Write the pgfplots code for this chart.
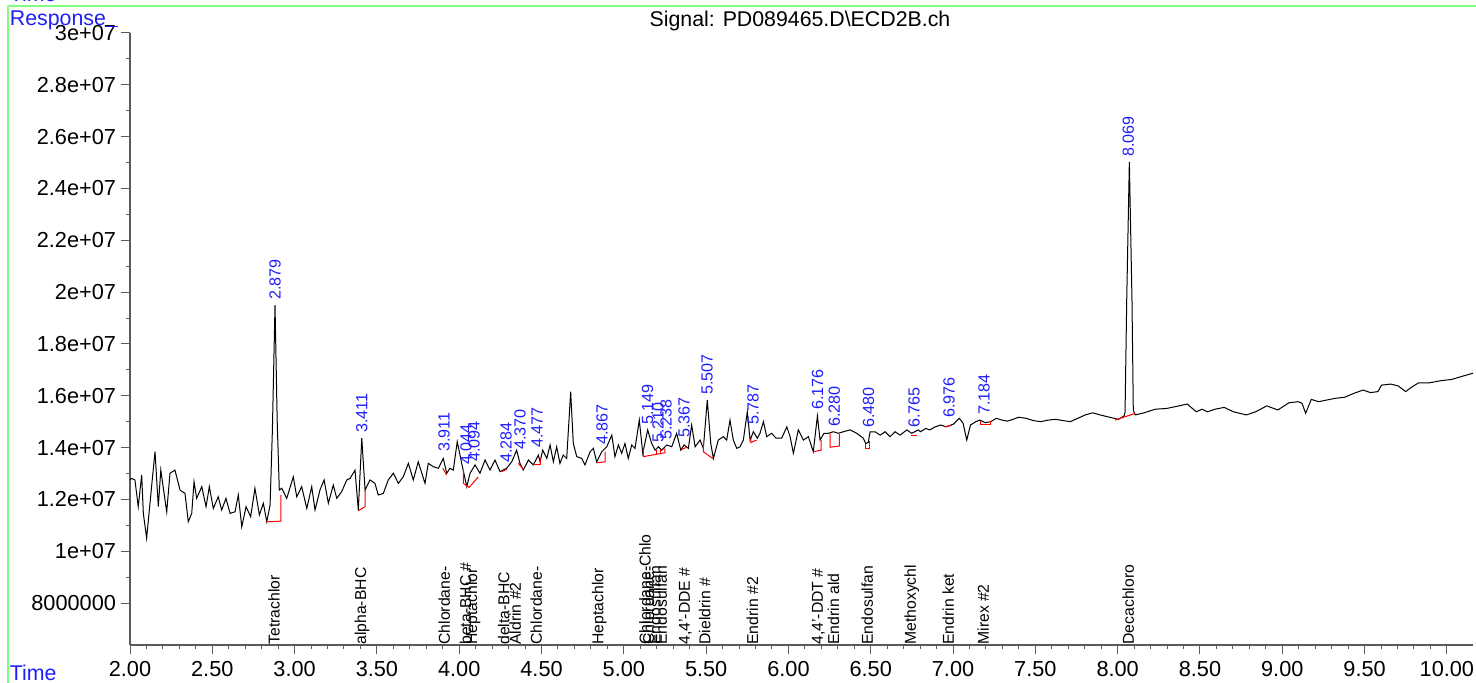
\documentclass[border=0pt]{standalone}
\usepackage{fontspec}
\setmainfont{Liberation Sans}
\usepackage{pgfplots}
\pgfplotsset{compat=1.18}

\definecolor{gframe}{RGB}{128,255,128}
\definecolor{lblue}{RGB}{30,30,250}
\definecolor{axgray}{RGB}{90,90,90}

\newcommand{\rt}[3]{\node[rotate=90,anchor=west,inner sep=0pt,text=lblue,font=\fontsize{8.1}{9}\selectfont] at (axis cs:#1,#2) {#3};}
\newcommand{\cmp}[2]{\node[rotate=90,anchor=west,inner sep=0pt,font=\fontsize{7.9}{9}\selectfont] at (axis cs:#1,6.38e6) {#2};}

\begin{document}
\begin{tikzpicture}
\begin{axis}[
  name=ax,
  scale only axis,
  width=671.5bp, height=306bp,
  xmin=2, xmax=10.159,
  ymin=6.379e6, ymax=30e6,
  axis x line=bottom, axis y line=left,
  axis line style={-, axgray, line width=0.6bp},
  tick align=outside,
  tick style={axgray, line width=0.5bp},
  major tick length=4.5bp, minor tick length=2.2bp,
  xtick={2,2.5,...,10},
  minor x tick num=4,
  ytick={8e6,10e6,12e6,14e6,16e6,18e6,20e6,22e6,24e6,26e6,28e6,30e6},
  yticklabels={8000000,1e+07,1.2e+07,1.4e+07,1.6e+07,1.8e+07,2e+07,2.2e+07,2.4e+07,2.6e+07,2.8e+07,3e+07},
  minor y tick num=1,
  scaled y ticks=false,
  tick label style={font=\fontsize{10.9}{12}\selectfont},
  yticklabel style={xshift=1bp},
  xticklabel style={/pgf/number format/.cd, fixed, fixed zerofill, precision=2},
  /pgf/number format/assume math mode=true,
  clip=false,
]
% chromatogram trace
\addplot[black, line width=0.5bp] coordinates {
(2.000,12.75e6) (2.010,12.81e6) (2.030,12.75e6) (2.050,11.72e6) (2.071,12.94e6)
(2.081,11.46e6) (2.101,10.50e6) (2.132,12.55e6) (2.152,13.84e6) (2.172,11.72e6)
(2.187,13.13e6) (2.223,11.52e6) (2.243,13.01e6) (2.273,13.13e6) (2.304,12.36e6)
(2.334,12.23e6) (2.354,11.14e6) (2.375,11.46e6) (2.389,12.68e6) (2.405,12.04e6)
(2.436,12.49e6) (2.462,11.72e6) (2.482,12.49e6) (2.506,11.65e6) (2.536,12.10e6)
(2.557,11.59e6) (2.583,12.04e6) (2.608,11.46e6) (2.638,11.52e6) (2.658,12.17e6)
(2.679,10.94e6) (2.705,11.72e6) (2.733,11.33e6) (2.759,12.43e6) (2.786,11.40e6)
(2.810,11.85e6) (2.831,11.14e6) (2.851,11.78e6) (2.865,14.68e6) (2.881,19.50e6)
(2.894,15.06e6) (2.907,12.36e6) (2.922,12.43e6) (2.952,12.04e6) (2.992,12.87e6)
(3.013,12.10e6) (3.043,12.49e6) (3.074,11.65e6) (3.104,12.49e6) (3.124,11.59e6)
(3.154,12.36e6) (3.179,12.75e6) (3.205,11.85e6) (3.235,12.55e6) (3.256,12.04e6)
(3.286,12.30e6) (3.317,12.75e6) (3.337,12.81e6) (3.367,13.13e6) (3.387,11.59e6)
(3.408,14.36e6) (3.428,12.36e6) (3.458,12.75e6) (3.488,12.62e6) (3.508,12.17e6)
(3.539,12.23e6) (3.569,12.75e6) (3.600,13.01e6) (3.630,12.62e6) (3.660,12.87e6)
(3.691,13.39e6) (3.721,12.75e6) (3.751,13.45e6) (3.792,12.62e6) (3.812,13.39e6)
(3.843,13.26e6) (3.873,13.20e6) (3.903,13.58e6) (3.924,13.01e6) (3.944,13.20e6)
(3.964,13.13e6) (3.988,14.23e6) (4.015,13.39e6) (4.046,12.49e6) (4.066,13.01e6)
(4.096,13.33e6) (4.126,13.01e6) (4.157,13.52e6) (4.187,13.13e6) (4.217,13.52e6)
(4.248,13.07e6) (4.288,13.20e6) (4.319,13.45e6) (4.349,13.90e6) (4.369,13.39e6)
(4.389,13.13e6) (4.420,13.52e6) (4.450,13.33e6) (4.481,13.71e6) (4.491,13.45e6)
(4.507,13.90e6) (4.532,13.58e6) (4.552,14.10e6) (4.572,13.45e6) (4.592,14.03e6)
(4.612,13.39e6) (4.632,13.71e6) (4.653,13.58e6) (4.677,16.16e6) (4.693,14.16e6)
(4.714,13.65e6) (4.744,13.58e6) (4.764,13.33e6) (4.795,13.84e6) (4.815,13.97e6)
(4.835,13.45e6) (4.866,13.84e6) (4.896,14.03e6) (4.927,14.48e6) (4.946,13.65e6)
(4.967,14.10e6) (4.987,13.78e6) (5.007,14.16e6) (5.027,13.58e6) (5.048,14.10e6)
(5.068,13.97e6) (5.094,15.06e6) (5.115,13.78e6) (5.145,14.68e6) (5.169,14.16e6)
(5.190,13.90e6) (5.210,14.03e6) (5.230,13.90e6) (5.261,14.10e6) (5.291,14.03e6)
(5.321,14.55e6) (5.346,13.90e6) (5.366,14.10e6) (5.392,13.97e6) (5.412,14.87e6)
(5.433,14.03e6) (5.463,14.29e6) (5.483,13.97e6) (5.507,15.83e6) (5.528,14.16e6)
(5.544,13.58e6) (5.574,14.29e6) (5.604,14.42e6) (5.625,14.29e6) (5.645,15.06e6)
(5.665,14.29e6) (5.686,13.97e6) (5.706,14.03e6) (5.726,14.29e6) (5.750,15.38e6)
(5.767,14.29e6) (5.787,14.61e6) (5.811,14.36e6) (5.827,14.55e6) (5.848,15.00e6)
(5.868,14.42e6) (5.898,14.55e6) (5.925,14.36e6) (5.959,14.36e6) (5.990,14.80e6)
(6.010,14.42e6) (6.030,13.78e6) (6.060,14.68e6) (6.091,14.29e6) (6.121,14.42e6)
(6.151,13.84e6) (6.176,15.22e6) (6.192,14.29e6) (6.216,14.55e6) (6.242,14.55e6)
(6.273,14.61e6) (6.303,14.55e6) (6.333,14.61e6) (6.374,14.68e6) (6.415,14.55e6)
(6.455,14.36e6) (6.470,14.15e6) (6.485,14.20e6) (6.496,14.61e6) (6.526,14.61e6)
(6.557,14.48e6) (6.587,14.61e6)
(6.617,14.42e6) (6.648,14.61e6) (6.678,14.48e6) (6.719,14.68e6) (6.749,14.55e6)
(6.789,14.68e6) (6.802,14.61e6) (6.835,14.74e6) (6.858,14.68e6) (6.892,14.80e6)
(6.925,14.87e6) (6.959,14.80e6) (7.004,14.91e6) (7.038,15.13e6) (7.061,14.94e6)
(7.083,14.29e6) (7.106,14.87e6) (7.139,15.00e6) (7.162,15.06e6) (7.196,14.96e6)
(7.229,15.00e6) (7.263,15.13e6) (7.297,15.06e6) (7.330,15.02e6) (7.365,15.09e6)
(7.398,15.17e6) (7.443,15.13e6) (7.488,15.04e6) (7.533,15.00e6) (7.578,15.06e6)
(7.623,15.09e6) (7.668,15.04e6) (7.713,15.00e6) (7.758,15.13e6) (7.803,15.26e6)
(7.848,15.34e6) (7.893,15.26e6) (7.938,15.19e6) (8.005,15.09e6) (8.039,15.22e6)
(8.045,15.37e6) (8.055,19.69e6) (8.071,25.03e6) (8.087,19.69e6) (8.095,15.45e6)
(8.106,15.26e6) (8.160,15.34e6) (8.229,15.48e6) (8.298,15.51e6) (8.366,15.60e6)
(8.422,15.68e6) (8.478,15.38e6) (8.512,15.48e6) (8.546,15.38e6) (8.591,15.48e6)
(8.647,15.55e6) (8.703,15.38e6) (8.782,15.26e6) (8.838,15.38e6) (8.906,15.61e6)
(8.973,15.45e6) (9.041,15.73e6) (9.097,15.77e6) (9.120,15.71e6) (9.142,15.32e6)
(9.176,15.86e6) (9.221,15.77e6) (9.266,15.83e6) (9.322,15.90e6) (9.378,15.94e6)
(9.434,16.09e6) (9.491,16.22e6) (9.536,16.12e6) (9.581,16.16e6) (9.603,16.41e6)
(9.659,16.45e6) (9.704,16.38e6) (9.750,16.16e6) (9.783,16.32e6) (9.828,16.50e6)
(9.895,16.50e6) (9.963,16.58e6) (10.030,16.63e6) (10.098,16.76e6) (10.159,16.87e6)
};
% integration baselines
\addplot[red, line width=0.5bp] coordinates {(2.826,11.13e6) (2.917,11.16e6) (2.917,12.17e6)};
\addplot[red, line width=0.5bp] coordinates {(3.387,11.56e6) (3.428,11.72e6) (3.428,12.36e6)};
\addplot[red, line width=0.5bp] coordinates {(3.900,13.20e6) (3.924,12.94e6)};
\addplot[red, line width=0.5bp] coordinates {(4.025,13.13e6) (4.025,12.62e6) (4.060,12.46e6) (4.116,12.87e6)};
\addplot[red, line width=0.5bp] coordinates {(4.258,13.07e6) (4.289,13.16e6)};
\addplot[red, line width=0.5bp] coordinates {(4.359,13.39e6) (4.389,13.16e6)};
\addplot[red, line width=0.5bp] coordinates {(4.450,13.35e6) (4.491,13.35e6) (4.491,13.58e6)};
\addplot[red, line width=0.5bp] coordinates {(4.835,13.41e6) (4.886,13.45e6) (4.886,13.84e6)};
\addplot[red, line width=0.5bp] coordinates {(5.119,13.97e6) (5.119,13.65e6) (5.250,13.80e6) (5.250,13.97e6)};
\addplot[red, line width=0.5bp] coordinates {(5.200,13.74e6) (5.200,13.90e6)};
\addplot[red, line width=0.5bp] coordinates {(5.220,13.76e6) (5.220,13.94e6)};
\addplot[red, line width=0.5bp] coordinates {(5.352,13.93e6) (5.382,14.01e6)};
\addplot[red, line width=0.5bp] coordinates {(5.483,14.16e6) (5.483,13.84e6) (5.540,13.58e6)};
\addplot[red, line width=0.5bp] coordinates {(5.771,14.36e6) (5.771,14.19e6) (5.807,14.29e6)};
\addplot[red, line width=0.5bp] coordinates {(6.151,13.84e6) (6.198,13.90e6) (6.198,14.29e6)};
\addplot[red, line width=0.5bp] coordinates {(6.253,14.55e6) (6.253,14.01e6) (6.309,14.06e6) (6.309,14.52e6)};
\addplot[red, line width=0.5bp] coordinates {(6.470,14.15e6) (6.470,13.98e6) (6.490,13.98e6) (6.490,14.25e6)};
\addplot[red, line width=0.5bp] coordinates {(6.745,14.48e6) (6.779,14.48e6)};
\addplot[red, line width=0.5bp] coordinates {(6.948,14.80e6) (6.993,14.86e6)};
\addplot[red, line width=0.5bp] coordinates {(7.168,15.02e6) (7.168,14.90e6) (7.229,14.90e6) (7.229,15.02e6)};
\addplot[red, line width=0.5bp] coordinates {(7.984,15.06e6) (8.106,15.32e6)};
% retention time labels
\rt{2.881}{19.69e6}{2.879}
\rt{3.408}{14.56e6}{3.411}
\rt{3.908}{13.83e6}{3.911}
\rt{4.041}{13.33e6}{4.044}
\rt{4.090}{13.44e6}{4.094}
\rt{4.284}{13.40e6}{4.284}
\rt{4.369}{13.90e6}{4.370}
\rt{4.473}{13.98e6}{4.477}
\rt{4.868}{14.10e6}{4.867}
\rt{5.144}{14.87e6}{5.149}
\rt{5.208}{14.18e6}{5.210}
\rt{5.256}{14.29e6}{5.238}
\rt{5.366}{14.37e6}{5.367}
\rt{5.505}{16.03e6}{5.507}
\rt{5.785}{14.87e6}{5.787}
\rt{6.177}{15.45e6}{6.176}
\rt{6.278}{14.79e6}{6.280}
\rt{6.486}{14.75e6}{6.480}
\rt{6.763}{14.75e6}{6.765}
\rt{6.976}{15.14e6}{6.976}
\rt{7.188}{15.26e6}{7.184}
\rt{8.065}{25.21e6}{8.069}
% compound names
\cmp{2.875}{Tetrachlor}
\cmp{3.409}{alpha-BHC}
\cmp{3.909}{Chlordane-}
\cmp{4.038}{beta-BHC \#}
\cmp{4.084}{Heptachlor}
\cmp{4.270}{delta-BHC}
\cmp{4.340}{Aldrin \#2}
\cmp{4.468}{Chlordane-}
\cmp{4.851}{Heptachlor}
\cmp{5.129}{Chlordane-Chlo}
\cmp{5.150}{Chlordane-}
\cmp{5.190}{Endosulfan}
\cmp{5.228}{Endosulfan}
\cmp{5.374}{4,4'-DDE \#}
\cmp{5.491}{Dieldrin \#}
\cmp{5.781}{Endrin \#2}
\cmp{6.182}{4,4'-DDT \#}
\cmp{6.273}{Endrin ald}
\cmp{6.479}{Endosulfan}
\cmp{6.749}{Methoxychl}
\cmp{6.971}{Endrin ket}
\cmp{7.184}{Mirex \#2}
\cmp{8.065}{Decachloro}
\end{axis}
\begin{scope}[shift={(ax.south west)}, xshift=-65bp, yshift=322.5bp, x=0.5bp, y=-0.5bp]
  \draw[gframe, line width=0.8bp] (8,6) -- (1480,6);
  \draw[gframe, line width=0.8bp] (8,6) -- (8,690);
  \node[anchor=base west, inner sep=0pt, text=lblue, font=\fontsize{10.7}{12}\selectfont] at (9.5,2) {Time};
  \node[anchor=base west, inner sep=0pt, text=lblue, font=\fontsize{10.7}{12}\selectfont] at (9.5,26) {Response};
  \draw[lblue, line width=0.5bp] (105,26.5) -- (118,26.5);
  \node[anchor=base west, inner sep=0pt, text=lblue, font=\fontsize{10.7}{12}\selectfont] at (9.5,681) {Time};
  \node[anchor=base, inner sep=0pt, font=\fontsize{10.7}{12}\selectfont] at (800,27) {Signal: PD089465.D\textbackslash ECD2B.ch};
  \pgfresetboundingbox
  \path[use as bounding box] (0,0) rectangle (1476,683);
\end{scope}
\end{tikzpicture}
\end{document}
